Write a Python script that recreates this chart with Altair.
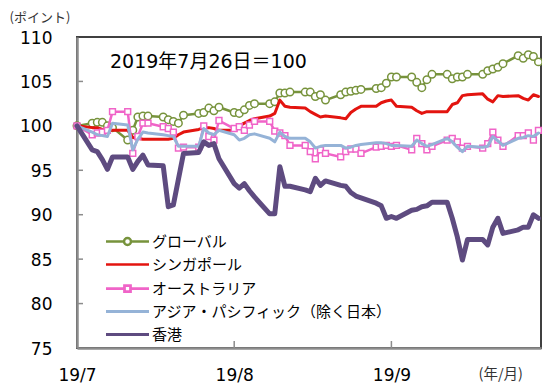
import altair as alt
import pandas as pd

# ---------------- data ----------------
dates = pd.bdate_range("2019-07-26", "2019-10-25")  # business days
series_names = ["グローバル", "シンガポール", "オーストラリア",
                "アジア・パシフィック（除く日本）", "香港"]

global_vals = [100.0, 100.3, 100.4, 100.4, 100.0, 99.8,
               98.4, 99.5, 101.0, 101.1, 101.1,
               101.0, 100.7, 100.5, 100.3, 101.2,
               101.4, 101.5, 102.0, 101.7, 102.1,
               101.5, 101.4, 101.8, 102.3, 102.5,
               102.5, 102.7, 103.7, 103.7, 103.8,
               103.8, 103.8, 103.3, 103.5, 102.9,
               103.5, 103.8, 103.9, 104.0, 104.1,
               104.2, 104.3, 104.8, 105.5, 105.5,
               105.5, 104.9, 104.3, 105.2, 105.8,
               105.8, 105.3, 105.5, 105.5, 105.8,
               105.8, 106.2, 106.4, 106.6, 107.0,
               107.9, 107.6, 108.0, 107.8, 107.2]
singapore_vals = [100.0, 99.8, 99.8, 99.6, 99.5, 99.5,
                  99.5, 98.7, 98.6, 98.5, 98.5,
                  98.5, 98.5, 98.6, 99.0, 99.3,
                  99.6, 99.8, 99.8, 99.7, 99.5,
                  99.5, 100.0, 100.3, 100.6, 100.8,
                  101.1, 101.4, 102.9, 102.2, 102.1,
                  102.0, 101.6, 101.3, 101.0, 101.1,
                  100.9, 100.8, 101.5, 101.9, 102.2,
                  102.2, 102.6, 102.8, 102.9, 102.2,
                  102.1, 101.7, 101.4, 101.6, 101.6,
                  101.6, 102.4, 102.6, 103.4, 103.5,
                  103.6, 103.0, 102.7, 103.4, 103.3,
                  103.4, 103.1, 102.9, 103.5, 103.3]
australia_vals = [100.0, 99.0, 99.2, 99.3, 99.5, 101.6,
                  101.6, 96.9, 98.8, 100.3, 100.3,
                  99.9, 99.7, 99.3, 97.5, 97.6,
                  97.6, 100.0, 98.8, 98.4, 100.6,
                  99.7, 99.9, 99.5, 100.1, 100.5,
                  100.5, 99.4, 99.2, 98.9, 97.8,
                  97.8, 97.1, 96.3, 97.3, 96.9,
                  96.5, 97.1, 97.4, 97.4, 96.9,
                  97.6, 97.7, 97.8, 97.7, 97.8,
                  97.3, 98.6, 98.0, 97.3, 97.7,
                  98.4, 98.6, 98.2, 97.5, 97.7,
                  97.5, 98.0, 99.3, 98.4, 97.7,
                  98.9, 98.9, 99.2, 98.4, 99.5]
asiapac_vals = [100.0, 99.3, 99.0, 98.9, 98.8, 100.3,
                100.1, 97.3, 98.5, 99.3, 99.2,
                99.0, 98.9, 98.8, 97.7, 97.7,
                97.7, 99.7, 99.2, 99.0, 99.5,
                99.0, 98.4, 98.6, 99.0, 99.1,
                98.6, 98.2, 99.3, 98.8, 98.6,
                98.6, 98.2, 97.5, 97.7, 97.8,
                97.8, 97.5, 97.6, 97.8, 97.9,
                98.1, 98.1, 98.0, 97.8, 97.8,
                97.7, 98.4, 98.0, 97.7, 97.9,
                98.6, 98.2, 97.6, 97.1, 97.7,
                97.6, 97.7, 98.8, 98.3, 97.8,
                98.6, 98.7, 98.9, 98.8, 99.2]
hongkong_vals = [100.0, 97.3, 97.1, 96.2, 95.1, 96.5,
                 96.5, 95.1, 96.0, 96.7, 95.6,
                 95.5, 90.9, 91.1, 94.0, 96.9,
                 97.0, 98.2, 97.8, 98.0, 96.3,
                 93.5, 93.0, 93.5, 92.7, 92.0,
                 90.1, 90.1, 95.4, 93.2, 93.2,
                 92.8, 92.6, 94.1, 93.3, 93.8,
                 93.3, 93.2, 92.5, 92.1, 91.9,
                 91.3, 91.0, 89.6, 89.8, 89.6,
                 90.5, 90.6, 90.9, 91.0, 91.4,
                 91.4, 89.6, 87.5, 84.9, 87.2,
                 87.2, 86.6, 88.6, 89.6, 87.9,
                 88.3, 88.6, 88.6, 90.0, 89.6]

x_tick_dates = ["2019-07-26", "2019-08-26", "2019-09-26"]
x_tick_labels = ["19/7", "19/8", "19/9"]
y_ticks = [75, 80, 85, 90, 95, 100, 105, 110]
annotation = "2019年7月26日＝100"

# ---------------- styles ----------------
colors = ["#77933C", "#E3140F", "#F064C8", "#95B3D7", "#5E4B80"]
widths = [2.5, 3, 2.5, 3, 5]
# legend symbols: line with a marker in the middle (scaled by sqrt(size)/2 = 2.5)
shape_paths = [
    "M-8.6,0H-1.4M1.4,0H8.6M-1.4,0A1.4,1.4,0,1,0,1.4,0A1.4,1.4,0,1,0,-1.4,0",
    "M-8.6,0H8.6",
    "M-8.6,0H-1.2M1.2,0H8.6M-1.2,-1.2H1.2V1.2H-1.2Z",
    "M-8.6,0H8.6",
    "M-8.6,0H8.6",
]
W, H = 464, 311
JP = "Noto Sans CJK JP"
NUM = "DejaVu Sans"

day = [(d - dates[0]).days for d in dates]
x_tick_days = [(pd.Timestamp(s) - dates[0]).days for s in x_tick_dates]
rows = []
for name, vals in zip(series_names, [global_vals, singapore_vals, australia_vals,
                                     asiapac_vals, hongkong_vals]):
    for d, v in zip(day, vals):
        rows.append({"day": d, "value": v, "series": name})
df = pd.DataFrame(rows)

label_expr = " : ".join(f"datum.value == {d} ? '{l}'"
                        for d, l in zip(x_tick_days, x_tick_labels)) + " : ''"

x_scale = alt.Scale(domain=[0, day[-1] + 0.5], nice=False, zero=False)
y_scale = alt.Scale(domain=[y_ticks[0], y_ticks[-1]], nice=False, zero=False)

x_axis = alt.Axis(
    values=x_tick_days, labelExpr=label_expr, ticks=False, grid=False,
    labelPadding=19, labelFont=NUM, labelFontSize=17, labelColor="#000000",
    labelFlush=False, domainColor="#8C8C8C", domainWidth=2.5,
    title="(年/月)", titleX=401, titleY=26, titleAlign="left",
    titleBaseline="middle", titleFont=JP, titleFontSize=14.5,
    titleFontWeight="normal", titleColor="#333333")
y_axis = alt.Axis(
    values=y_ticks, ticks=False, grid=False, labelPadding=25, labelOffset=1,
    labelFont=NUM, labelFontSize=17, labelColor="#000000", labelFlush=False,
    domainColor="#8C8C8C", domainWidth=2.5,
    title="(ポイント)", titleAngle=0, titleX=-68, titleY=-20, titleAlign="left",
    titleBaseline="middle", titleFont=JP, titleFontSize=13,
    titleFontWeight="normal", titleColor="#333333")

X = alt.X("day:Q", scale=x_scale, axis=x_axis)
Y = alt.Y("value:Q", scale=y_scale, axis=y_axis)

base = alt.Chart(df)
layers = []
for i, (name, col, w) in enumerate(zip(series_names, colors, widths)):
    sub = base.transform_filter(alt.datum.series == name)
    layers.append(sub.mark_line(
        color=col, strokeWidth=w, strokeJoin="round", strokeCap="round"
    ).encode(x=X, y=Y))
    if i == 0:
        layers.append(sub.mark_point(
            shape="circle", size=56, filled=True, fill="white", stroke=col,
            strokeWidth=1.5, opacity=1).encode(x=X, y=Y))
    if i == 2:
        layers.append(sub.mark_point(
            shape="square", size=34, filled=True, fill="white", stroke=col,
            strokeWidth=1.5, opacity=1).encode(x=X, y=Y))

legend_kw = dict(orient="none", legendX=43, legendY=197, title=None,
                 symbolSize=25, symbolOpacity=1, labelFont=JP, labelFontSize=15,
                 labelColor="#000000", labelOffset=17, rowPadding=7, padding=0,
                 symbolFillColor="white", labelLimit=400)
legend_layer = base.mark_point(opacity=0, filled=False).encode(
    x=X, y=Y,
    color=alt.Color("series:N", scale=alt.Scale(domain=series_names, range=colors),
                    legend=alt.Legend(**legend_kw)),
    shape=alt.Shape("series:N", scale=alt.Scale(domain=series_names, range=shape_paths),
                    legend=alt.Legend(**legend_kw)),
    strokeWidth=alt.StrokeWidth("series:N", scale=alt.Scale(domain=series_names, range=widths),
                                legend=alt.Legend(**legend_kw)),
)

ytick_layer = alt.Chart(pd.DataFrame({"value": y_ticks[1:-1]})).mark_rule(
    color="#8C8C8C", strokeWidth=1.5).encode(y=Y, x=alt.value(0), x2=alt.value(6))
xtick_layer = alt.Chart(pd.DataFrame({"day": x_tick_days[1:]})).mark_rule(
    color="#8C8C8C", strokeWidth=1.5).encode(x=X, y=alt.value(H - 7), y2=alt.value(H))

note_layer = alt.Chart(pd.DataFrame({"t": [annotation]})).mark_text(
    align="left", baseline="middle", font="DejaVu Sans, Noto Sans CJK JP",
    fontSize=19, color="#000000"
).encode(x=alt.value(33), y=alt.value(25), text="t:N")

chart = alt.layer(ytick_layer, xtick_layer, *layers, legend_layer, note_layer).properties(
    width=W, height=H,
    autosize=alt.AutoSizeParams(type="none"),
    padding={"left": 69, "top": 29, "right": 1, "bottom": 36},
    background="white",
).configure_view(stroke="#404040", strokeWidth=2)

chart.save("out.html", embed_options={"renderer": "svg", "actions": False})
